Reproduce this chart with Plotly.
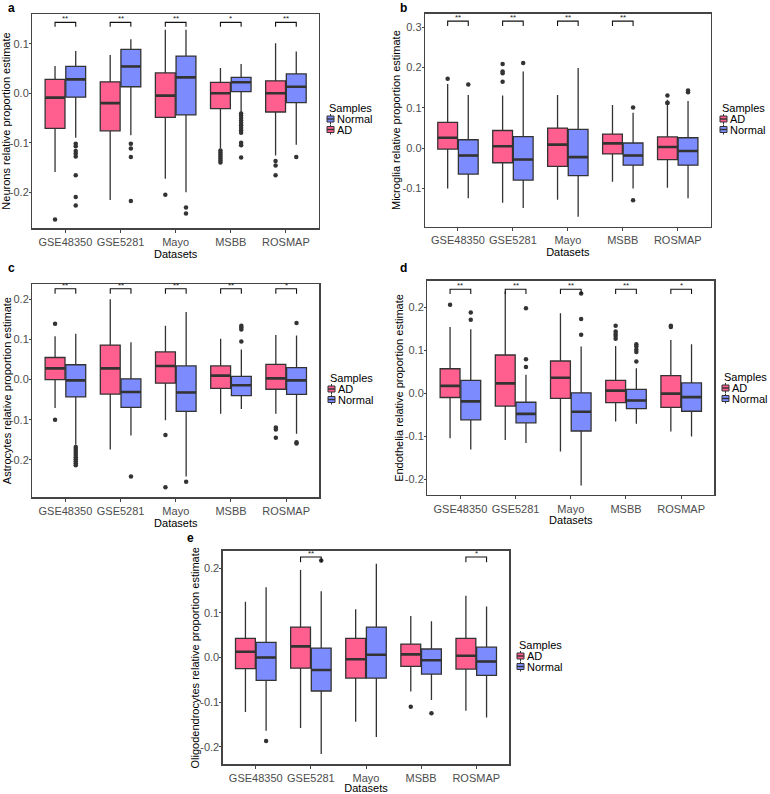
import plotly.graph_objects as go

categories = ["GSE48350", "GSE5281", "Mayo", "MSBB", "ROSMAP"]
groups = ["AD", "Normal"]

# ---- Panel a: Neurons ----
neu_ad_lo = [-0.159, -0.216, -0.173, -0.112, -0.126]
neu_ad_q1 = [-0.071, -0.076, -0.049, -0.031, -0.038]
neu_ad_med = [-0.009, -0.020, -0.005, 0.000, 0.000]
neu_ad_q3 = [0.028, 0.023, 0.041, 0.022, 0.025]
neu_ad_hi = [0.055, 0.077, 0.128, 0.051, 0.101]
neu_ad_out = [[-0.255], [], [-0.205],
              [-0.116, -0.12, -0.124, -0.128, -0.132, -0.136, -0.14],
              [-0.137, -0.146, -0.166]]
neu_nl_lo = [-0.09, -0.085, -0.2, -0.038, -0.104]
neu_nl_q1 = [-0.008, 0.013, -0.044, 0.003, -0.019]
neu_nl_med = [0.028, 0.054, 0.032, 0.022, 0.013]
neu_nl_q3 = [0.054, 0.0885, 0.075, 0.032, 0.039]
neu_nl_hi = [0.085, 0.109, 0.128, 0.059, 0.084]
neu_nl_out = [[-0.102, -0.107, -0.117, -0.122, -0.128, -0.166, -0.21, -0.227],
              [-0.102, -0.112, -0.129, -0.218], [-0.231, -0.243],
              [-0.041, -0.045, -0.05, -0.055, -0.06, -0.065, -0.07, -0.075, -0.08, -0.1, -0.105, -0.13],
              [-0.129]]
neu_sig = ["**", "**", "**", "*", "**"]

# ---- Panel b: Microglia ----
mic_ad_lo = [-0.1, -0.135, -0.128, -0.083, -0.098]
mic_ad_q1 = [-0.002, -0.036, -0.045, -0.014, -0.028]
mic_ad_med = [0.026, 0.005, 0.009, 0.012, 0.003]
mic_ad_q3 = [0.064, 0.044, 0.05, 0.035, 0.028]
mic_ad_hi = [0.159, 0.131, 0.132, 0.107, 0.12]
mic_ad_out = [[0.172], [0.165, 0.186, 0.19, 0.209], [], [], [0.112, 0.113, 0.131]]
mic_nl_lo = [-0.124, -0.148, -0.17, -0.1, -0.124]
mic_nl_q1 = [-0.064, -0.079, -0.068, -0.042, -0.042]
mic_nl_med = [-0.018, -0.028, -0.022, -0.018, -0.007]
mic_nl_q3 = [0.021, 0.029, 0.047, 0.013, 0.026]
mic_nl_hi = [0.132, 0.19, 0.199, 0.088, 0.117]
mic_nl_out = [[0.158], [0.211], [], [0.101, -0.129], [0.139, 0.143]]
mic_sig = ["**", "**", "**", "**", ""]

# ---- Panel c: Astrocytes ----
ast_ad_lo = [-0.071, -0.174, -0.101, -0.085, -0.085]
ast_ad_q1 = [0.0, -0.036, -0.009, -0.022, -0.024]
ast_ad_med = [0.028, 0.028, 0.034, 0.01, 0.003]
ast_ad_q3 = [0.055, 0.086, 0.069, 0.034, 0.038]
ast_ad_hi = [0.108, 0.2, 0.134, 0.102, 0.111]
ast_ad_out = [[0.139, -0.1], [], [-0.138, -0.268], [], [-0.119, -0.124, -0.145]]
ast_nl_lo = [-0.162, -0.139, -0.241, -0.073, -0.135]
ast_nl_q1 = [-0.043, -0.069, -0.079, -0.04, -0.037]
ast_nl_med = [-0.002, -0.031, -0.032, -0.014, -0.002]
ast_nl_q3 = [0.037, 0.002, 0.034, 0.008, 0.03]
ast_nl_hi = [0.114, 0.093, 0.168, 0.075, 0.11]
ast_nl_out = [[-0.168, -0.173, -0.178, -0.183, -0.188, -0.193, -0.198, -0.203, -0.208, -0.213],
              [-0.241], [-0.254], [0.095, 0.125, 0.13, 0.134], [0.141, -0.156, -0.159]]
ast_sig = ["**", "**", "**", "**", "*"]

# ---- Panel d: Endothelia ----
end_ad_lo = [-0.105, -0.109, -0.136, -0.066, -0.089]
end_ad_q1 = [-0.01, -0.03, -0.012, -0.022, -0.033]
end_ad_med = [0.017, 0.023, 0.036, 0.006, -0.001]
end_ad_q3 = [0.057, 0.089, 0.075, 0.03, 0.041]
end_ad_hi = [0.154, 0.237, 0.186, 0.11, 0.124]
end_ad_out = [[0.206], [], [], [0.127, 0.133, 0.138, 0.144, 0.157], [0.154, 0.157]]
end_nl_lo = [-0.131, -0.116, -0.215, -0.071, -0.101]
end_nl_q1 = [-0.062, -0.069, -0.088, -0.036, -0.042]
end_nl_med = [-0.019, -0.048, -0.043, -0.017, -0.009]
end_nl_q3 = [0.03, -0.021, 0.001, 0.009, 0.024]
end_nl_hi = [0.149, 0.043, 0.109, 0.058, 0.114]
end_nl_out = [[0.171, 0.188], [0.061, 0.079, 0.198], [0.136, 0.173, 0.232],
              [0.074, 0.096, 0.101, 0.109, 0.114], []]
end_sig = ["**", "**", "**", "**", "*"]

# ---- Panel e: Oligodendrocytes ----
oli_ad_lo = [-0.122, -0.158, -0.144, -0.076, -0.119]
oli_ad_q1 = [-0.025, -0.024, -0.046, -0.02, -0.026]
oli_ad_med = [0.013, 0.025, -0.004, 0.007, 0.004]
oli_ad_q3 = [0.043, 0.068, 0.043, 0.03, 0.043]
oli_ad_hi = [0.125, 0.196, 0.108, 0.093, 0.138]
oli_ad_out = [[], [], [], [-0.11], []]
oli_nl_lo = [-0.164, -0.216, -0.178, -0.095, -0.134]
oli_nl_q1 = [-0.051, -0.075, -0.046, -0.037, -0.04]
oli_nl_med = [0.0, -0.028, 0.006, -0.006, -0.009]
oli_nl_q3 = [0.034, 0.021, 0.068, 0.019, 0.023]
oli_nl_hi = [0.157, 0.148, 0.21, 0.081, 0.114]
oli_nl_out = [[-0.187], [0.217], [], [-0.125], []]
oli_sig = ["", "**", "", "", "*"]

# ---- styling / layout ----
COL = {"AD": "#FF5F8F", "Normal": "#7C8CFF"}
EDGE = "#333333"
FONT = "Liberation Sans, Arial, Helvetica, sans-serif"
W, H = 770, 794
DODGE = 0.1875
BOXW = 0.36

panels = [
    dict(label="a", title="Neurons relative proportion estimate",
         ad=(neu_ad_lo, neu_ad_q1, neu_ad_med, neu_ad_q3, neu_ad_hi, neu_ad_out),
         nl=(neu_nl_lo, neu_nl_q1, neu_nl_med, neu_nl_q3, neu_nl_hi, neu_nl_out),
         sig=neu_sig, br=(0.134, 0.143), yr=[-0.273, 0.160], ticks=[-0.2, -0.1, 0.0, 0.1],
         px=(32.3, 319), py=(14, 228.3), leg=(327, 108), order=["Normal", "AD"], lab=(6, 8),
         ytx=6.5),
    dict(label="b", title="Microglia relative proportion estimate",
         ad=(mic_ad_lo, mic_ad_q1, mic_ad_med, mic_ad_q3, mic_ad_hi, mic_ad_out),
         nl=(mic_nl_lo, mic_nl_q1, mic_nl_med, mic_nl_q3, mic_nl_hi, mic_nl_out),
         sig=mic_sig, br=(0.303, 0.315), yr=[-0.194, 0.334], ticks=[-0.1, 0.0, 0.1, 0.2, 0.3],
         px=(425, 710.7), py=(13.5, 226.5), leg=(720, 108), order=["AD", "Normal"], lab=(398, 8),
         ytx=396),
    dict(label="c", title="Astrocytes relative proportion estimate",
         ad=(ast_ad_lo, ast_ad_q1, ast_ad_med, ast_ad_q3, ast_ad_hi, ast_ad_out),
         nl=(ast_nl_lo, ast_nl_q1, ast_nl_med, ast_nl_q3, ast_nl_hi, ast_nl_out),
         sig=ast_sig, br=(0.214, 0.226), yr=[-0.293, 0.238], ticks=[-0.2, -0.1, 0.0, 0.1, 0.2],
         px=(32.3, 319.3), py=(284, 497.3), leg=(328, 378), order=["AD", "Normal"], lab=(6, 268),
         ytx=6.5),
    dict(label="d", title="Endothelia relative proportion estimate",
         ad=(end_ad_lo, end_ad_q1, end_ad_med, end_ad_q3, end_ad_hi, end_ad_out),
         nl=(end_nl_lo, end_nl_q1, end_nl_med, end_nl_q3, end_nl_hi, end_nl_out),
         sig=end_sig, br=(0.231, 0.242), yr=[-0.237, 0.262], ticks=[-0.2, -0.1, 0.0, 0.1, 0.2],
         px=(427.3, 714.3), py=(280.7, 495), leg=(722, 377), order=["AD", "Normal"], lab=(398, 268),
         ytx=399),
    dict(label="e", title="Oligodendrocytes relative proportion estimate",
         ad=(oli_ad_lo, oli_ad_q1, oli_ad_med, oli_ad_q3, oli_ad_hi, oli_ad_out),
         nl=(oli_nl_lo, oli_nl_q1, oli_nl_med, oli_nl_q3, oli_nl_hi, oli_nl_out),
         sig=oli_sig, br=(0.213, 0.225), yr=[-0.239, 0.239], ticks=[-0.2, -0.1, 0.0, 0.1, 0.2],
         px=(222.7, 509.3), py=(550.7, 764.3), leg=(517, 645), order=["AD", "Normal"], lab=(185, 538),
         ytx=194),
]

fig = go.Figure()
annotations = []
shapes = []
layout_upd = {}


def px2x(v):
    return v / W


def px2y(v):
    return 1 - v / H


for k, p in enumerate(panels):
    n = k + 1
    xs = "" if n == 1 else str(n)
    xa, ya = "x" + xs, "y" + xs
    for g, stats in (("AD", p["ad"]), ("Normal", p["nl"])):
        lo, q1, med, q3, hi, out = stats
        off = -DODGE if g == "AD" else DODGE
        xpos = [i + off for i in range(len(categories))]
        fig.add_trace(go.Box(
            x=xpos, q1=q1, median=med, q3=q3, lowerfence=lo, upperfence=hi,
            width=BOXW, whiskerwidth=0, boxpoints=False,
            fillcolor=COL[g], line=dict(color=EDGE, width=1.3),
            name=g, showlegend=False,
            xaxis=xa, yaxis=ya, hoverinfo="skip"))
        # thicker median bars (ggplot style)
        mx, my = [], []
        for x0, m in zip(xpos, med):
            mx += [x0 - BOXW / 2, x0 + BOXW / 2, None]
            my += [m, m, None]
        fig.add_trace(go.Scatter(x=mx, y=my, mode="lines",
                                 line=dict(color=EDGE, width=2.6),
                                 showlegend=False, xaxis=xa, yaxis=ya, hoverinfo="skip"))
        # outliers
        ox, oy = [], []
        for x0, vals in zip(xpos, out):
            ox += [x0] * len(vals)
            oy += vals
        fig.add_trace(go.Scatter(x=ox, y=oy, mode="markers",
                                 marker=dict(color=EDGE, size=4.5),
                                 showlegend=False, xaxis=xa, yaxis=ya, hoverinfo="skip"))
    # significance brackets
    b0, b1 = p["br"]
    bx, by = [], []
    for i, s in enumerate(p["sig"]):
        if s:
            bx += [i - DODGE, i - DODGE, i + DODGE, i + DODGE, None]
            by += [b0, b1, b1, b0, None]
            annotations.append(dict(x=i, y=b1, xref=xa, yref=ya, text=s, showarrow=False,
                                    yanchor="bottom", yshift=-3,
                                    font=dict(family=FONT, size=8, color="#222")))
    if bx:
        fig.add_trace(go.Scatter(x=bx, y=by, mode="lines", line=dict(color="#111", width=1.1),
                                 showlegend=False, xaxis=xa, yaxis=ya, hoverinfo="skip"))

    x0p, x1p = p["px"]
    y0p, y1p = p["py"]
    layout_upd["xaxis" + xs] = dict(
        domain=[x0p / W, x1p / W], anchor=ya, range=[-0.6, 4.6],
        tickvals=list(range(len(categories))), ticktext=categories, tickangle=0,
        showline=True, mirror=True, linecolor="#444", linewidth=1.3,
        ticks="outside", ticklen=3, tickcolor="#444", showgrid=False, zeroline=False,
        tickfont=dict(family=FONT, size=11, color="#4D4D4D"), ticklabeloverflow="allow",
        title=dict(text="Datasets", font=dict(family=FONT, size=11, color="#000"), standoff=2),
        automargin=False)
    layout_upd["yaxis" + xs] = dict(
        domain=[1 - y1p / H, 1 - y0p / H], anchor=xa, range=p["yr"],
        tickvals=p["ticks"], ticktext=[f"{v:.1f}" for v in p["ticks"]],
        showline=True, mirror=True, linecolor="#444", linewidth=1.3,
        ticks="outside", ticklen=2, tickcolor="#444", showgrid=False, zeroline=False,
        tickfont=dict(family=FONT, size=11, color="#4D4D4D"), ticklabeloverflow="allow",
        ticklabelstandoff=-2, automargin=False)
    # y-axis title placed as rotated text beside the tick labels
    annotations.append(dict(x=px2x(p["ytx"]), y=px2y((y0p + y1p) / 2), xref="paper", yref="paper",
                            text=p["title"], textangle=-90, showarrow=False,
                            xanchor="center", yanchor="middle",
                            font=dict(family=FONT, size=11, color="#000")))

    # legend ("Samples") drawn as keys in page coordinates
    lx, ly = p["leg"]
    annotations.append(dict(x=px2x(lx), y=px2y(ly), xref="paper", yref="paper", text="Samples",
                            showarrow=False, xanchor="left", yanchor="middle",
                            font=dict(family=FONT, size=11, color="#000")))
    for j, g in enumerate(p["order"]):
        cy = ly + 11 + 10.5 * j
        kx0, kx1 = lx, lx + 7
        shapes.append(dict(type="line", xref="paper", yref="paper",
                           x0=px2x(lx + 3.5), x1=px2x(lx + 3.5), y0=px2y(cy - 5), y1=px2y(cy + 5),
                           line=dict(color=EDGE, width=1)))
        shapes.append(dict(type="rect", xref="paper", yref="paper",
                           x0=px2x(kx0), x1=px2x(kx1), y0=px2y(cy - 3), y1=px2y(cy + 3),
                           fillcolor=COL[g], line=dict(color=EDGE, width=1)))
        shapes.append(dict(type="line", xref="paper", yref="paper",
                           x0=px2x(kx0), x1=px2x(kx1), y0=px2y(cy), y1=px2y(cy),
                           line=dict(color=EDGE, width=1.4)))
        annotations.append(dict(x=px2x(lx + 8), y=px2y(cy), xref="paper", yref="paper", text=g,
                                showarrow=False, xanchor="left", yanchor="middle",
                                font=dict(family=FONT, size=11, color="#000")))
    annotations.append(dict(x=px2x(p["lab"][0]), y=px2y(p["lab"][1]), xref="paper", yref="paper",
                            text="<b>" + p["label"] + "</b>", showarrow=False,
                            xanchor="left", yanchor="middle",
                            font=dict(family=FONT, size=12, color="#000")))

fig.update_layout(**layout_upd)
fig.update_layout(width=W, height=H, margin=dict(l=0, r=0, t=0, b=0, autoexpand=False),
                  paper_bgcolor="white", plot_bgcolor="white", boxmode="overlay",
                  showlegend=False, annotations=annotations, shapes=shapes,
                  font=dict(family=FONT))
fig.write_html("out.html", config={"displayModeBar": False, "staticPlot": True},
               post_script="document.body.style.margin='0';document.body.style.overflow='hidden';")
